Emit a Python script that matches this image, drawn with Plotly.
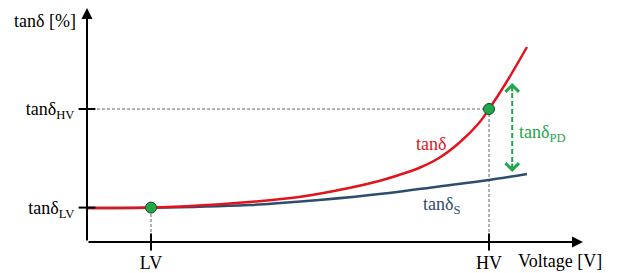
import plotly.graph_objects as go

# ---- data (arbitrary units) ----
volt = [0, 1.6, 2.8, 4.05, 5.3, 6.55, 7.3, 7.8, 8.3, 8.8, 9.3, 9.8, 10.05, 10.3, 10.55, 11.0]
tand = [1.7, 1.72, 1.82, 2.0, 2.25, 2.7, 3.05, 3.35, 3.7, 4.2, 4.95, 5.95, 6.65, 7.4, 8.2, 9.75]
volt_s = [0, 1.6, 4.05, 5.8, 7.55, 8.8, 10.05, 11.0]
tand_s = [1.7, 1.71, 1.85, 2.1, 2.45, 2.78, 3.1, 3.4]

LV, HV = 1.6, 10.05
TAN_LV, TAN_HV = 1.72, 6.65
PD_X, PD_LOW, PD_HIGH = 10.63, 3.5, 7.95
X_MAX, Y_MAX = 12.4, 11.7

x_tick_vals = [LV, HV]
x_tick_text = ["LV", "HV"]
y_tick_vals = [TAN_LV, TAN_HV]
y_tick_text = ["tanδ<sub>LV</sub>", "tanδ<sub>HV</sub>"]

FONT = "Liberation Serif, Times New Roman, DejaVu Serif, serif"
RED = "#e3131d"
BLUE = "#2e4d6e"
GREEN = "#22a64a"
GUIDE = "#666666"

W, H = 628, 273
ML, MR, MT, MB = 87, 45, 8, 31
PW, PH = W - ML - MR, H - MT - MB

fig = go.Figure()

# guide lines
for gx, gy in (([0, HV], [TAN_HV, TAN_HV]), ([HV, HV], [0, TAN_HV]), ([LV, LV], [0, TAN_LV])):
    fig.add_trace(go.Scatter(x=gx, y=gy, mode="lines",
                             line=dict(color=GUIDE, width=1, dash="3px,2px"), hoverinfo="skip"))

# curves
fig.add_trace(go.Scatter(x=volt_s, y=tand_s, mode="lines",
                         line=dict(color=BLUE, width=2.5, shape="spline", smoothing=1)))
fig.add_trace(go.Scatter(x=volt, y=tand, mode="lines",
                         line=dict(color=RED, width=2.5, shape="spline", smoothing=1)))

# PD dashed arrow shaft
fig.add_trace(go.Scatter(x=[PD_X, PD_X], y=[PD_LOW + 0.1, PD_HIGH - 0.1], mode="lines",
                         line=dict(color=GREEN, width=2, dash="5px,3px"), hoverinfo="skip"))

# points
fig.add_trace(go.Scatter(x=[LV, HV], y=[TAN_LV, TAN_HV], mode="markers",
                         marker=dict(color=GREEN, size=11, line=dict(color="#1d4a25", width=1))))

# tick marks crossing the axes
fig.add_trace(go.Scatter(x=x_tick_vals, y=[0, 0], mode="markers",
                         marker=dict(symbol="line-ns-open", size=12, color="black",
                                     line=dict(color="black", width=2)),
                         cliponaxis=False, hoverinfo="skip"))
fig.add_trace(go.Scatter(x=[0, 0], y=y_tick_vals, mode="markers",
                         marker=dict(symbol="line-ew-open", size=12, color="black",
                                     line=dict(color="black", width=2)),
                         cliponaxis=False, hoverinfo="skip"))

ann = []
# axes with arrows
ann.append(dict(x=X_MAX, y=0, ax=0, ay=0, xref="x", yref="y", axref="x", ayref="y",
                showarrow=True, arrowhead=2, arrowsize=1.1, arrowwidth=2, arrowcolor="black", text=""))
ann.append(dict(x=0, y=Y_MAX, ax=0, ay=0, xref="x", yref="y", axref="x", ayref="y",
                showarrow=True, arrowhead=2, arrowsize=1.1, arrowwidth=2, arrowcolor="black", text=""))
# PD arrow heads
ann.append(dict(x=PD_X, y=PD_HIGH, ax=PD_X, ay=PD_HIGH - 0.5, xref="x", yref="y", axref="x", ayref="y",
                showarrow=True, arrowhead=4, arrowsize=1.3, arrowwidth=2, arrowcolor=GREEN, text=""))
ann.append(dict(x=PD_X, y=PD_LOW, ax=PD_X, ay=PD_LOW + 0.5, xref="x", yref="y", axref="x", ayref="y",
                showarrow=True, arrowhead=4, arrowsize=1.3, arrowwidth=2, arrowcolor=GREEN, text=""))
# labels
ann.append(dict(x=8.6, y=4.9, xref="x", yref="y", text="tanδ", showarrow=False,
                font=dict(family=FONT, size=18, color=RED)))
ann.append(dict(x=8.35, y=1.85, xref="x", yref="y", xanchor="left", text="tanδ<sub>S</sub>", showarrow=False,
                font=dict(family=FONT, size=18, color=BLUE)))
ann.append(dict(x=10.75, y=5.45, xref="x", yref="y", xanchor="left", text="tanδ<sub>PD</sub>", showarrow=False,
                font=dict(family=FONT, size=18, color=GREEN)))
# axis titles (paper coordinates, outside the plot area)
ann.append(dict(x=(78 - ML) / PW, y=(H - 21 - MB) / PH, xref="paper", yref="paper", xanchor="right",
                yanchor="middle", text="tanδ [%]", showarrow=False,
                font=dict(family=FONT, size=18, color="black")))
ann.append(dict(x=(516 - ML) / PW, y=(H - 261 - MB) / PH, xref="paper", yref="paper", xanchor="left",
                yanchor="middle", text="Voltage [V]", showarrow=False,
                font=dict(family=FONT, size=18, color="black")))

fig.update_layout(
    width=W, height=H,
    margin=dict(l=ML, r=MR, t=MT, b=MB),
    paper_bgcolor="white", plot_bgcolor="white",
    showlegend=False,
    font=dict(family=FONT),
    annotations=ann,
    xaxis=dict(range=[0, X_MAX], showgrid=False, zeroline=False, showline=False, automargin=False,
               tickvals=x_tick_vals, ticktext=x_tick_text, ticks="outside", ticklen=4,
               tickcolor="rgba(0,0,0,0)", tickfont=dict(family=FONT, size=18, color="black")),
    yaxis=dict(range=[0, Y_MAX], showgrid=False, zeroline=False, showline=False, automargin=False,
               tickvals=y_tick_vals, ticktext=y_tick_text, ticks="outside", ticklen=8,
               tickcolor="rgba(0,0,0,0)", tickfont=dict(family=FONT, size=18, color="black")),
)

fig.write_html("out.html", config={"displayModeBar": False},
               post_script="document.body.style.margin='0';document.body.style.overflow='hidden';")
